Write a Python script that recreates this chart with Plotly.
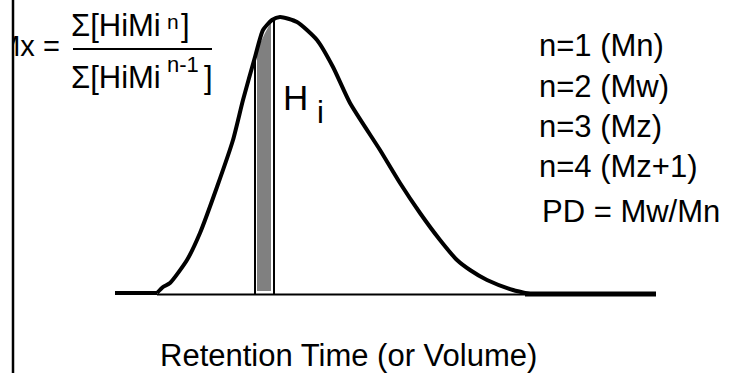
import plotly.graph_objects as go

# ---- data (x = retention position, y = detector height) ----
retention = [157, 163, 170, 187, 200, 217, 233, 243, 255, 263, 272, 280, 297, 317,
             333, 350, 380, 400, 420, 440, 457, 470, 487, 513, 530]
detector_height = [1, 7, 11, 34, 61, 107, 154, 194, 237, 264, 274, 277, 272, 254,
                   227, 191, 144, 111, 81, 54, 34, 24, 14, 4, 0]

baseline_left_x = [115, 157]
baseline_mid_x = [157, 530]
baseline_right_x = [525, 656]

slice_edges_x = [255, 274]
slice_edges_top = [237, 274]
slice_fill_x = [257, 271, 271, 265, 257, 257]
slice_fill_y = [3, 3, 272, 261, 244, 3]

moment_labels = ["n=1 (Mn)", "n=2 (Mw)", "n=3 (Mz)", "n=4 (Mz+1)"]
pd_label = "PD = Mw/Mn"
axis_label = "Retention Time (or Volume)"
frac_main = "Σ[HiMi"
num_exp = "n"
den_exp = "n-1"

W, H = 730, 373
BASE = 294  # pixel row of the baseline


def py(v):
    """pixel row -> data height"""
    return BASE - v


FONT = "Arial, Liberation Sans, sans-serif"

fig = go.Figure()

# baseline
fig.add_trace(go.Scatter(x=baseline_left_x, y=[1, 1], mode="lines",
                         line=dict(color="black", width=4), hoverinfo="skip"))
fig.add_trace(go.Scatter(x=baseline_mid_x, y=[-0.5, -0.5], mode="lines",
                         line=dict(color="black", width=2), hoverinfo="skip"))
fig.add_trace(go.Scatter(x=baseline_right_x, y=[0, 0], mode="lines",
                         line=dict(color="black", width=5), hoverinfo="skip"))

# shaded slice
fig.add_trace(go.Scatter(x=slice_fill_x, y=slice_fill_y, mode="lines", fill="toself",
                         fillcolor="#808080", line=dict(color="#808080", width=0),
                         hoverinfo="skip"))
for sx, st in zip(slice_edges_x, slice_edges_top):
    fig.add_trace(go.Scatter(x=[sx, sx], y=[-1, st], mode="lines",
                             line=dict(color="black", width=2), hoverinfo="skip"))

# chromatogram peak
fig.add_trace(go.Scatter(x=retention, y=detector_height, mode="lines",
                         line=dict(color="black", width=4, shape="spline", smoothing=0.6),
                         hoverinfo="skip"))

# "Mx =" as a text trace so it can be clipped by the white strip
fig.add_trace(go.Scatter(x=[28], y=[py(49)], mode="text", text=["Mx ="],
                         textposition="middle center",
                         textfont=dict(family=FONT, size=29, color="black"),
                         hoverinfo="skip"))

fig.add_shape(type="rect", xref="x", yref="y", x0=-5, x1=12, y0=py(380), y1=py(-5),
              fillcolor="white", line=dict(width=0), layer="above")
fig.add_shape(type="line", xref="x", yref="y", x0=13, x1=13, y0=py(0), y1=py(373),
              line=dict(color="black", width=2.5), layer="above")
# fraction bar
fig.add_shape(type="line", xref="x", yref="y", x0=73, x1=212, y0=py(49), y1=py(49),
              line=dict(color="black", width=2), layer="above")


def txt(x, y, s, size, anchor="left"):
    return dict(x=x, y=py(y), text=s, xanchor=anchor, yanchor="middle",
                font=dict(family=FONT, size=size, color="black"), showarrow=False,
                borderpad=0, borderwidth=0)


ann = []
# numerator
ann.append(txt(71, 25, frac_main, 31))
ann.append(txt(167, 21, num_exp, 21))
ann.append(txt(181, 25, "]", 31))
# denominator
ann.append(txt(71, 77, frac_main, 31))
ann.append(txt(167, 64, den_exp, 22))
ann.append(txt(204, 77, "]", 31))
# H_i
ann.append(txt(295, 97, "H", 35, "center"))
ann.append(txt(320, 112, "i", 31, "center"))
for lab, yy in zip(moment_labels, [45, 86, 126, 166]):
    ann.append(txt(539, yy, lab, 31))
ann.append(txt(542, 211, pd_label, 31))
ann.append(txt(348, 355, axis_label, 31, "center"))

fig.update_layout(
    width=W, height=H, margin=dict(l=0, r=0, t=0, b=0, pad=0),
    paper_bgcolor="white", plot_bgcolor="white", showlegend=False,
    xaxis=dict(range=[0, W], visible=False, fixedrange=True),
    yaxis=dict(range=[py(H), py(0)], visible=False, fixedrange=True),
    annotations=ann,
)

fig.write_html(
    "out.html",
    config={"displayModeBar": False, "staticPlot": True},
    post_script="document.body.style.margin='0';document.body.style.overflow='hidden';",
)
